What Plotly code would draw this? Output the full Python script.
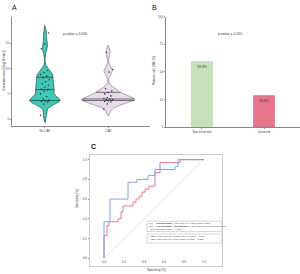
import numpy as np
import plotly.graph_objects as go

# ---------------- data ----------------
violin_groups = ["No CAV", "CAV"]
no_cav_values = [0.8, 3.0, 3.4, 3.5, 3.6, 3.6, 3.7, 3.7, 3.8, 4.0, 4.5, 5.0, 5.5, 5.8,
                 5.9, 6.3, 6.7, 7.0, 7.4, 7.8, 8.2, 8.5, 8.8, 9.2, 9.6, 13.9, 14.8, 17.0]
cav_values = [2.0, 3.0, 3.4, 3.5, 3.6, 3.7, 3.8, 3.8, 3.9, 3.9, 4.0, 4.1, 4.3, 4.6,
              5.0, 5.3, 5.6, 6.0, 9.3, 9.8, 13.2]
a_yticks = [0, 5, 10, 15]
p_value_a = "p-value = 0.016"

bar_categories = ["Non-Detected", "Detected"]
bar_values = [59.3, 28.6]
b_yticks = [0, 25, 50, 75, 100]
p_value_b = "p-value = 0.015"

roc_clin_fpr = [0, 0, 0.03, 0.03, 0.05, 0.05, 0.14, 0.14, 0.17, 0.17, 0.19, 0.19, 0.29, 0.29,
                0.32, 0.32, 0.35, 0.35, 0.38, 0.38, 0.41, 0.41, 0.45, 0.45, 0.51, 0.51, 0.56, 0.56,
                0.76, 0.76, 1.0]
roc_clin_tpr = [0, 0.23, 0.23, 0.33, 0.33, 0.37, 0.37, 0.40, 0.40, 0.47, 0.47, 0.53, 0.53, 0.57,
                0.57, 0.60, 0.60, 0.63, 0.63, 0.67, 0.67, 0.70, 0.70, 0.73, 0.73, 0.87, 0.87, 0.97,
                0.97, 1.0, 1.0]
roc_exo_fpr = [0, 0, 0.06, 0.06, 0.24, 0.24, 0.33, 0.33, 0.44, 0.44, 0.51, 0.51, 0.71, 0.71,
               0.74, 0.74, 1.0]
roc_exo_tpr = [0, 0.37, 0.37, 0.60, 0.60, 0.77, 0.77, 0.80, 0.80, 0.84, 0.84, 0.90, 0.90, 0.93,
               0.93, 1.0, 1.0]
c_ticks = [0.0, 0.2, 0.4, 0.6, 0.8, 1.0]
legend_lines_top = [
    "<b>Clinical Model:</b> AUC (95% CI) 0.713 (0.576-0.850)",
    "<b>Clinical Model + ExR Burden:</b> AUC (95% CI) 0.793 (0.669-0.917)",
    "DeLong test p-value = 0.136",
]
legend_lines_bottom = [
    "<b>NRI:</b> 0.651 (95% CI: 0.128-1.174), p-value = 0.015",
    "<b>IDI:</b> 0.083 (95% CI: 0.011-0.155), p-value = 0.023",
]

W, H = 300, 274
FONT = "Liberation Sans"


def px(x):
    return x / W


def py(y):
    return 1 - y / H


fig = go.Figure()

# ---------------- panel A: violins ----------------
def kde_shape(vals, bw, maxhalf):
    v = np.asarray(vals, float)
    g = np.linspace(v.min() - 2 * bw, v.max() + 2 * bw, 300)
    d = np.exp(-0.5 * ((g[:, None] - v[None, :]) / bw) ** 2).sum(axis=1)
    d = d / d.max() * maxhalf
    return g, d


violin_styles = [
    dict(fill="#40c8b4", line="#1f3a36", maxhalf=0.24, bw=0.75),
    dict(fill="#e8dcec", line="#7d6f84", maxhalf=0.42, bw=0.7),
]
for i, (vals, st) in enumerate(zip([no_cav_values, cav_values], violin_styles)):
    g, d = kde_shape(vals, st["bw"], st["maxhalf"])
    xs = np.concatenate([i + d, (i - d)[::-1], [i + d[0]]])
    ys = np.concatenate([g, g[::-1], [g[0]]])
    fig.add_trace(go.Scatter(x=xs, y=ys, mode="lines", fill="toself",
                             fillcolor=st["fill"], line=dict(color=st["line"], width=0.6),
                             xaxis="x", yaxis="y", hoverinfo="skip"))
    for q in np.quantile(vals, [0.25, 0.5, 0.75]):
        hw = float(np.interp(q, g, d))
        fig.add_trace(go.Scatter(x=[i - hw, i + hw], y=[q, q], mode="lines",
                                 line=dict(color="#222222", width=0.6),
                                 xaxis="x", yaxis="y", hoverinfo="skip"))
    n = len(vals)
    jit = [(((k * 37) % 11) - 5) / 5 * 0.07 for k in range(n)]
    fig.add_trace(go.Scatter(x=[i + j for j in jit], y=vals, mode="markers",
                             marker=dict(size=1.6, color="#333333"),
                             xaxis="x", yaxis="y", hoverinfo="skip"))

# ---------------- panel B: bars ----------------
fig.add_trace(go.Bar(x=[0, 1], y=bar_values, width=0.34,
                     marker=dict(color=["#c7e2bb", "#e6768a"],
                                 line=dict(color=["#a9cf9b", "#cf5a70"], width=0.5)),
                     text=[f"{v}%" for v in bar_values], textposition="inside",
                     insidetextanchor="end", textfont=dict(size=3.5, color="#333333"),
                     xaxis="x2", yaxis="y2", hoverinfo="skip"))

# ---------------- panel C: ROC ----------------
fig.add_trace(go.Scatter(x=[0, 1], y=[0, 1], mode="lines",
                         line=dict(color="#d9d9d9", width=0.7),
                         xaxis="x3", yaxis="y3", hoverinfo="skip"))
fig.add_trace(go.Scatter(x=roc_clin_fpr, y=roc_clin_tpr, mode="lines",
                         line=dict(color="#e8788c", width=1),
                         xaxis="x3", yaxis="y3", hoverinfo="skip"))
fig.add_trace(go.Scatter(x=roc_exo_fpr, y=roc_exo_tpr, mode="lines",
                         line=dict(color="#7ea6dc", width=1),
                         xaxis="x3", yaxis="y3", hoverinfo="skip"))

tickfont = dict(size=3, color="#444444", family=FONT)
axcommon = dict(showgrid=False, zeroline=False, tickfont=tickfont,
                ticks="outside", ticklen=1.5, tickwidth=0.5, tickcolor="#888888")

fig.update_layout(
    width=W, height=H, margin=dict(l=0, r=0, t=0, b=0),
    paper_bgcolor="white", plot_bgcolor="white", showlegend=False,
    font=dict(family=FONT),
    xaxis=dict(domain=[px(12), px(150)], range=[-0.52, 1.66], tickvals=[0, 1],
               ticktext=violin_groups, showline=True, linecolor="#888888", linewidth=0.6,
               **axcommon),
    yaxis=dict(domain=[py(126), py(15)], range=[-1.36, 20.2], tickvals=a_yticks,
               showline=True, linecolor="#888888", linewidth=0.6, **axcommon),
    xaxis2=dict(domain=[px(166), px(300)], range=[-0.58, 1.58], tickvals=[0, 1],
                ticktext=bar_categories, showline=True, linecolor="#888888", linewidth=0.6,
                anchor="y2", **axcommon),
    yaxis2=dict(domain=[py(127), py(15)], range=[0, 100], tickvals=b_yticks,
                showline=True, linecolor="#888888", linewidth=0.6, anchor="x2", **axcommon),
    xaxis3=dict(domain=[px(90), px(222)], range=[-0.14, 1.18], tickvals=c_ticks,
                tickformat=".1f", showline=True, mirror=True, linecolor="#cccccc",
                linewidth=0.8, anchor="y3", showgrid=False, zeroline=False,
                tickfont=tickfont, ticks="", ticklabelposition="inside"),
    yaxis3=dict(domain=[py(268), py(155)], range=[-0.08, 1.05], tickvals=c_ticks,
                tickformat=".1f", showline=True, mirror=True, linecolor="#cccccc",
                linewidth=0.8, anchor="x3", **axcommon),
)

ann = []


def txt(x, y, s, size=3.5, angle=0, xanchor="center", bold=False, color="#333333"):
    ann.append(dict(x=px(x), y=py(y), xref="paper", yref="paper", text=s, showarrow=False,
                    xanchor=xanchor, yanchor="middle", textangle=angle,
                    font=dict(size=size, color=color, family=FONT)))


txt(14, 6, "A", size=7, color="#111111")
txt(154, 6, "B", size=7, color="#111111")
txt(93, 147, "<b>C</b>", size=7, color="#111111")
txt(75, 32, p_value_a)
txt(230, 32, p_value_b)
txt(3.5, 70, "Exosomes count (log[10<sup>9</sup>/mL])", size=3, angle=-90)
txt(154, 70, "Patients with CAV (%)", size=3, angle=-90)
txt(77, 200, "Sensitivity (%)", size=3, angle=-90)
txt(156, 271.5, "Specificity (%)", size=3)

# legend boxes in panel C
shapes = [
    dict(type="rect", xref="paper", yref="paper", x0=px(147), x1=px(222), y0=py(233), y1=py(222.5),
         line=dict(color="#aaaaaa", width=0.5), fillcolor="white"),
    dict(type="rect", xref="paper", yref="paper", x0=px(147), x1=px(222), y0=py(244.5), y1=py(235.5),
         line=dict(color="#aaaaaa", width=0.5), fillcolor="white"),
    dict(type="line", xref="paper", yref="paper", x0=px(149), x1=px(153), y0=py(225), y1=py(225),
         line=dict(color="#e8788c", width=0.8)),
    dict(type="line", xref="paper", yref="paper", x0=px(149), x1=px(153), y0=py(228), y1=py(228),
         line=dict(color="#7ea6dc", width=0.8)),
]
for k, s in enumerate(legend_lines_top):
    txt(154 if k < 2 else 149, 225 + 3 * k, s, size=2.4, xanchor="left")
for k, s in enumerate(legend_lines_bottom):
    txt(149, 238 + 3.3 * k, s, size=2.4, xanchor="left")

fig.update_layout(annotations=ann, shapes=shapes)
fig.write_html("out.html")
